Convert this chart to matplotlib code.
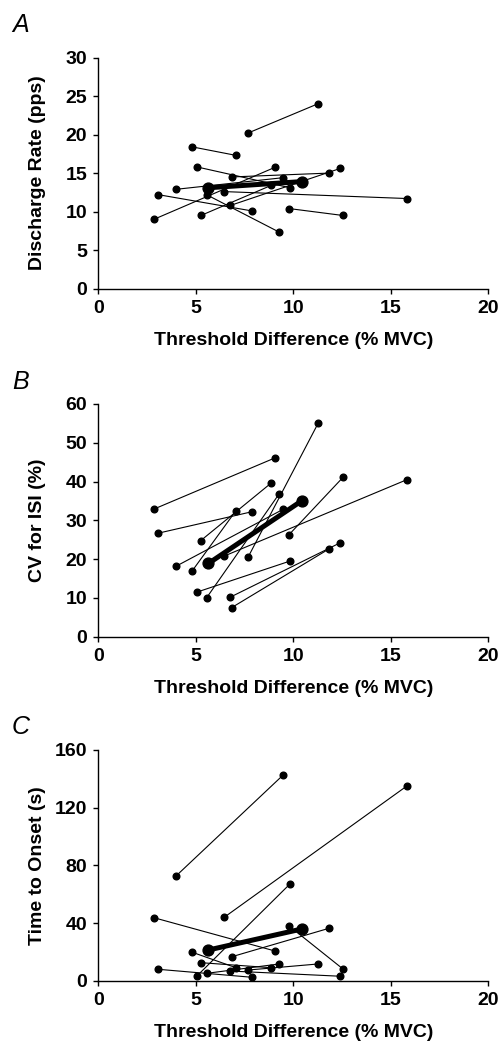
import matplotlib
matplotlib.use("Agg")
import matplotlib.pyplot as plt

plt.rcParams['font.family'] = ['Liberation Sans', 'DejaVu Sans']

# Threshold difference (% MVC) for each of 12 pairs: low and high end
x_low = [7.68, 4.82, 5.06, 6.84, 2.85, 4.00, 6.77, 6.46, 5.26, 3.08, 5.55, 9.78]
x_high = [11.27, 7.06, 9.83, 11.82, 9.06, 9.46, 12.40, 15.83, 8.86, 7.86, 9.27, 12.55]

# Panel A: discharge rate (pps)
rate_low = [20.2, 18.4, 15.8, 14.5, 9.0, 12.9, 10.8, 12.6, 9.5, 12.2, 12.2, 10.4]
rate_high = [24.0, 17.3, 13.1, 15.0, 15.75, 14.4, 15.6, 11.7, 13.4, 10.1, 7.35, 9.5]

# Panel B: CV for ISI (%)
cv_low = [20.5, 17.0, 11.5, 7.5, 32.9, 18.2, 10.2, 20.8, 24.8, 26.7, 10.0, 26.3]
cv_high = [55.0, 32.5, 19.5, 22.6, 46.1, 32.8, 24.2, 40.5, 39.6, 32.2, 36.8, 41.1]

# Panel C: time to onset (s)
onset_low = [7.4, 19.7, 3.3, 16.6, 43.7, 72.8, 6.7, 44.0, 12.5, 7.9, 5.1, 38.0]
onset_high = [11.6, 9.0, 67.1, 36.3, 20.6, 142.4, 3.1, 135.1, 9.0, 2.4, 11.6, 8.1]

# Group means
mean_x = [5.65, 10.45]
mean_rate = [13.1, 13.9]
mean_cv = [18.9, 35.1]
mean_onset = [21.3, 35.9]

panels = [
    dict(letter='A', ylabel='Discharge Rate (pps)', low=rate_low, high=rate_high,
         mean=mean_rate, ylim=(0, 30), yticks=[0, 5, 10, 15, 20, 25, 30],
         rect_px=(57.5, 288.7)),
    dict(letter='B', ylabel='CV for ISI (%)', low=cv_low, high=cv_high,
         mean=mean_cv, ylim=(0, 60), yticks=[0, 10, 20, 30, 40, 50, 60],
         rect_px=(404.0, 636.7)),
    dict(letter='C', ylabel='Time to Onset (s)', low=onset_low, high=onset_high,
         mean=mean_onset, ylim=(0, 160), yticks=[0, 40, 80, 120, 160],
         rect_px=(750.0, 980.7)),
]

W, H = 503, 1042
fig = plt.figure(figsize=(W / 100, H / 100), dpi=100)

left_px, right_px = 98.3, 488.3
letter_tops = [13, 370, 715]

for p, ltop in zip(panels, letter_tops):
    top_px, bot_px = p['rect_px']
    ax = fig.add_axes([left_px / W, 1 - bot_px / H,
                       (right_px - left_px) / W, (bot_px - top_px) / H])
    for xl, xh, yl, yh in zip(x_low, x_high, p['low'], p['high']):
        ax.plot([xl, xh], [yl, yh], color='black', lw=0.8,
                marker='o', ms=4.8, mfc='black', mec='black', clip_on=False)
    ax.plot(mean_x, p['mean'], color='black', lw=3.6, marker='o', ms=7.8,
            mfc='black', mec='black', solid_capstyle='butt', zorder=5)
    ax.set_xlim(0, 20)
    ax.set_ylim(*p['ylim'])
    ax.set_xticks([0, 5, 10, 15, 20])
    ax.set_yticks(p['yticks'])
    for s in ['top', 'right']:
        ax.spines[s].set_visible(False)
    for s in ['left', 'bottom']:
        ax.spines[s].set_linewidth(1.0)
        ax.spines[s].set_color('black')
    ax.tick_params(direction='out', length=3.5, width=1.0, colors='black',
                   labelsize=14, pad=4.5)
    for lab in ax.get_xticklabels() + ax.get_yticklabels():
        lab.set_fontweight('bold')
    ax.set_xlabel('Threshold Difference (% MVC)', fontsize=14, fontweight='bold')
    ax.set_ylabel(p['ylabel'], fontsize=14, fontweight='bold')
    h_px = bot_px - top_px
    ax.xaxis.set_label_coords(0.5, -43.5 / h_px)
    ax.yaxis.set_label_coords(-(left_px - 46) / (right_px - left_px), 0.5)
    fig.text(12 / W, 1 - ltop / H, p['letter'], fontsize=18, fontstyle='italic',
             ha='left', va='top')

fig.savefig('out.png', dpi=100)
